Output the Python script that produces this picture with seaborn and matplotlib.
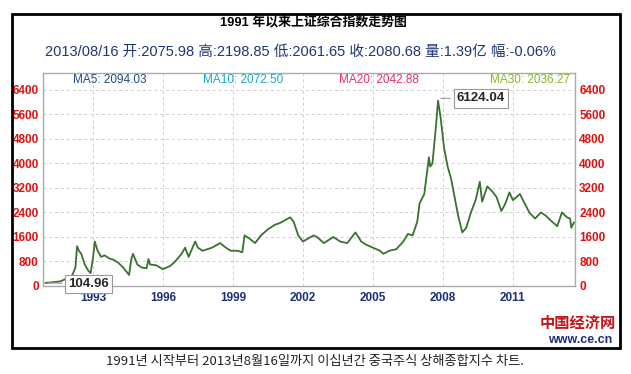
import pandas as pd
import matplotlib.pyplot as plt
import seaborn as sns
from matplotlib.patches import Rectangle

# --- data (x in years, y index level) ---
years = [1990.96, 1991.3, 1991.6, 1991.9, 1992.1, 1992.25, 1992.32, 1992.4, 1992.5, 1992.65,
         1992.8, 1992.9, 1993.0, 1993.08, 1993.2, 1993.35, 1993.5, 1993.7, 1993.9, 1994.1,
         1994.3, 1994.55, 1994.65, 1994.72, 1994.9, 1995.1, 1995.3, 1995.38, 1995.45, 1995.7,
         1996.0, 1996.3, 1996.5, 1996.8, 1996.95, 1997.1, 1997.38, 1997.5, 1997.7, 1997.9,
         1998.1, 1998.45, 1998.7, 1998.9, 1999.2, 1999.4, 1999.5, 1999.7, 1999.95, 2000.2,
         2000.5, 2000.8, 2001.0, 2001.45, 2001.6, 2001.8, 2002.0, 2002.45, 2002.6, 2002.9,
         2003.1, 2003.3, 2003.6, 2003.9, 2004.25, 2004.5, 2004.7, 2005.0, 2005.3, 2005.45,
         2005.7, 2006.0, 2006.3, 2006.5, 2006.7, 2006.9, 2007.0, 2007.2, 2007.4, 2007.45,
         2007.55, 2007.7, 2007.79, 2007.9, 2008.05, 2008.2, 2008.35, 2008.5, 2008.65, 2008.83,
         2009.0, 2009.2, 2009.4, 2009.58, 2009.68, 2009.9, 2010.1, 2010.3, 2010.5, 2010.65,
         2010.85, 2011.0, 2011.3, 2011.5, 2011.7, 2011.95, 2012.2, 2012.4, 2012.6, 2012.9,
         2013.1, 2013.3, 2013.45, 2013.5, 2013.62]
close = [100, 125, 150, 250, 330, 600, 1300, 1150, 1050, 700,
         500, 420, 900, 1450, 1150, 950, 1000, 900, 850, 750,
         600, 360, 900, 1050, 700, 600, 580, 880, 700, 680,
         550, 650, 780, 1050, 1250, 950, 1450, 1250, 1150, 1200,
         1250, 1400, 1250, 1150, 1150, 1100, 1650, 1550, 1400, 1650,
         1850, 2000, 2050, 2240, 2100, 1650, 1450, 1650, 1600, 1400,
         1500, 1600, 1450, 1400, 1750, 1450, 1350, 1250, 1150, 1050,
         1150, 1200, 1450, 1700, 1650, 2100, 2700, 3000, 4200, 3900,
         4000, 5200, 6050, 5500, 4500, 3900, 3500, 2900, 2300, 1750,
         1900, 2400, 2800, 3400, 2750, 3250, 3100, 2900, 2450, 2650,
         3050, 2800, 3000, 2700, 2400, 2200, 2400, 2300, 2150, 1950,
         2400, 2250, 2200, 1900, 2080]

tick_years = [1993, 1996, 1999, 2002, 2005, 2008, 2011]
y_ticks = [0, 800, 1600, 2400, 3200, 4000, 4800, 5600, 6400]

df = pd.DataFrame({'year': years, 'close': close})

sns.set_style("white")
plt.rcParams['font.family'] = ['Liberation Sans', 'Noto Sans CJK SC', 'DejaVu Sans']

fig = plt.figure(figsize=(6.31, 3.74), dpi=100)
W, H = 631, 374
ax = fig.add_axes([43 / W, 1 - 286 / H, (575 - 43) / W, (286 - 73) / H])

sns.lineplot(data=df, x='year', y='close', ax=ax, color='#3a7030', linewidth=1.3)

ax.set_xlim(1990.86, 2013.66)
ax.set_ylim(0, 6950)
ax.set_xticks(tick_years)
ax.set_xticklabels([str(t) for t in tick_years])
ax.set_yticks(y_ticks)
ax.set_xlabel('')
ax.set_ylabel('')
ax.grid(True, color='#cfcfcf', linestyle=(0, (3, 3)), linewidth=0.7)
for s in ax.spines.values():
    s.set_color('#aaaaaa')
    s.set_linewidth(1.0)
ax.tick_params(axis='y', length=0, labelright=True, colors='#e01010', labelsize=8.5, pad=3)
ax.tick_params(axis='x', length=0, colors='#1c2f78', labelsize=8.5, pad=4)
for lab in ax.get_yticklabels() + ax.get_xticklabels():
    lab.set_fontweight('bold')

# MA legend row
ma_text = ['MA5: 2094.03', 'MA10: 2072.50', 'MA20: 2042.88', 'MA30: 2036.27']
ma_colors = ['#1f4a86', '#1aa6c8', '#e0336c', '#8ab52a']
ma_x = [73, 203, 339, 490]
for t, c, xp in zip(ma_text, ma_colors, ma_x):
    fig.text(xp / W, 1 - 80 / H, t, color=c, fontsize=8.5, va='center', ha='left')

# extreme annotations
ax.annotate('6124.04', xy=(2007.79, 6124), xytext=(2008.6, 6124), fontsize=9.5,
            fontweight='bold', va='center', ha='left',
            bbox=dict(boxstyle='square,pad=0.25', fc='white', ec='#999999', lw=0.8),
            arrowprops=dict(arrowstyle='-', color='#999999', lw=0.8))
ax.annotate('104.96', xy=(1990.96, 105), xytext=(1991.95, 60), fontsize=9.5,
            fontweight='bold', va='center', ha='left',
            bbox=dict(boxstyle='square,pad=0.25', fc='white', ec='#999999', lw=0.8),
            arrowprops=dict(arrowstyle='-', color='#999999', lw=0.8), annotation_clip=False)

# titles
fig.text(313 / W, 1 - 22 / H, '1991 年以来上证综合指数走势图', fontsize=9.3, fontweight='bold',
         ha='center', va='center', color='black')
fig.text(45 / W, 1 - 52 / H, '2013/08/16 开:2075.98 高:2198.85 低:2061.65 收:2080.68 量:1.39亿 幅:-0.06%',
         fontsize=10.5, ha='left', va='center', color='#1f3577')

# logo
fig.text(578 / W, 1 - 323 / H, '中国经济网', fontsize=11, fontweight='bold', color='#c8121a',
         ha='center', va='center', family=['Noto Sans CJK SC'])
fig.text(580 / W, 1 - 340 / H, 'www.ce.cn', fontsize=9, fontweight='bold', color='#1c2f78',
         ha='center', va='center')

# outer frame
fig.patches.append(Rectangle((12 / W, 1 - 348 / H), (620 - 12) / W, (348 - 14) / H,
                             transform=fig.transFigure, fill=False, ec='black', lw=2))

# Korean caption below frame
fig.text(315 / W, 1 - 361 / H, '1991년 시작부터 2013년8월16일까지 이십년간 중국주식 상해종합지수 차트.',
         fontsize=9.5, ha='center', va='center', color='#222222', family=['Noto Sans CJK KR'])

plt.savefig('out.png', dpi=100)
plt.close()
